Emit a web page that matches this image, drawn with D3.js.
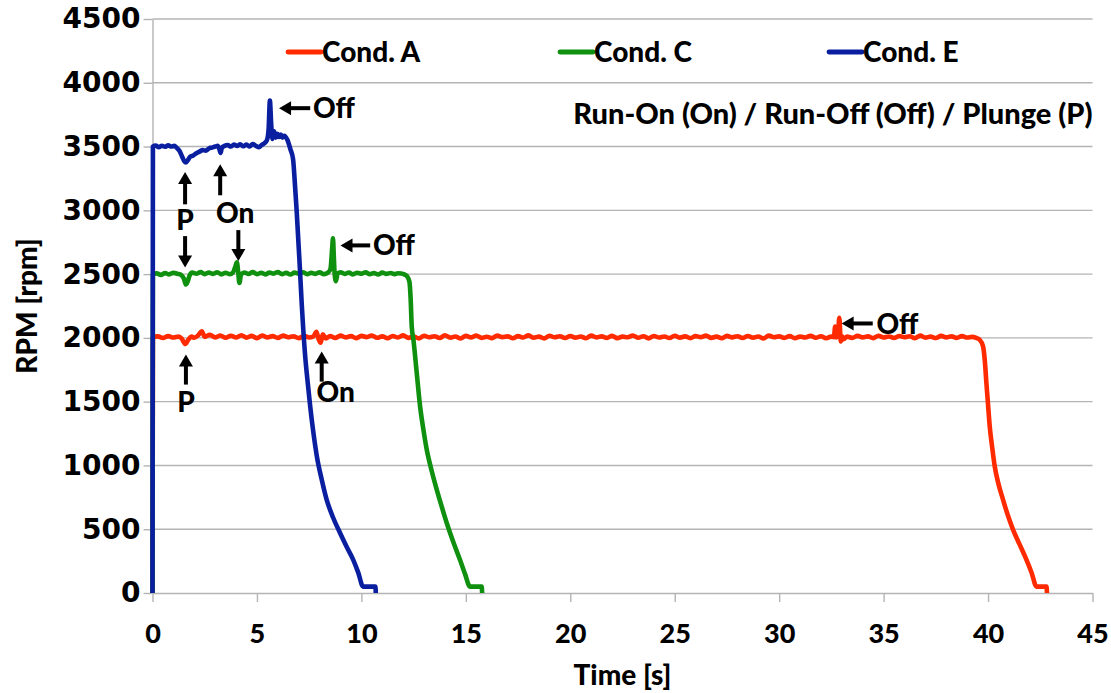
<!DOCTYPE html>
<html>
<head>
<meta charset="utf-8">
<script src="https://cdn.jsdelivr.net/npm/d3@7"></script>
<style>
  html, body { margin: 0; padding: 0; background: #fff; }
  svg { display: block; }
  .lbl { font-family: Lato, "Open Sans", sans-serif; font-weight: 900; fill: #000; }
</style>
</head>
<body>
<svg id="chart" width="1111" height="693"></svg>
<script>
// ---- measured spindle speed, [time s, rpm] ----
const condA = [
  [0,0],[0.02,2005],[0.25,2012],[0.5,1999],[0.75,2014],[1.0,2003],[1.25,2010],[1.4,1994],[1.57,1952],[1.72,1988],
  [1.87,2010],[2.0,2001],[2.2,2022],[2.36,2052],[2.5,2008],[2.75,2024],[3.0,2004],[3.25,2019],[3.5,2001],[3.75,2017],
  [4.0,2003],[4.25,2021],[4.5,2002],[4.75,2016],[5.0,1998],[5.25,2019],[5.5,2004],[5.75,2014],[6.0,2000],[6.25,2018],
  [6.5,2005],[6.75,2012],[7.0,1998],[7.25,2016],[7.5,2003],[7.7,2011],[7.85,2048],[7.95,1992],[8.05,1962],[8.15,2028],
  [8.3,1996],[8.5,2015],[8.75,2000],[9.0,2018],[9.25,2004],[9.5,2014],[9.75,1998],[10.0,2016],
  [10.25,2006],[10.5,2019],[10.75,2001],[11.0,2012],[11.25,1997],[11.5,2015],[11.75,2003],[12.0,2020],[12.25,2000],[12.5,2010],
  [12.75,1996],[13.0,2017],[13.25,2005],[13.5,2013],[13.75,1999],[14.0,2021],[14.25,2002],[14.5,2011],[14.75,1995],[15.0,2016],
  [15.25,2004],[15.5,2019],[15.75,2000],[16.0,2009],[16.25,1998],[16.5,2018],[16.75,2006],[17.0,2012],[17.25,1997],[17.5,2014],
  [17.75,2003],[18.0,2020],[18.25,2001],[18.5,2010],[18.75,1996],[19.0,2017],[19.25,2005],[19.5,2013],[19.75,1999],[20.0,2015],
  [20.25,2002],[20.5,2011],[20.75,1997],[21.0,2018],[21.25,2004],[21.5,2012],[21.75,2000],[22.0,2016],[22.25,1998],[22.5,2010],
  [22.75,2005],[23.0,2019],[23.25,2001],[23.5,2013],[23.75,1996],[24.0,2015],[24.25,2003],[24.5,2011],[24.75,1999],[25.0,2017],
  [25.25,2002],[25.5,2012],[25.75,1998],[26.0,2014],[26.25,2006],[26.5,2018],[26.75,2000],[27.0,2010],[27.25,1997],[27.5,2016],
  [27.75,2004],[28.0,2013],[28.25,1999],[28.5,2015],[28.75,2002],[29.0,2011],[29.25,1996],[29.5,2018],[29.75,2005],[30.0,2012],
  [30.25,2000],[30.5,2014],[30.75,1998],[31.0,2010],[31.25,2003],[31.5,2016],[31.75,2001],[32.0,2013],[32.25,1997],[32.5,2011],
  [32.62,2006],[32.68,2088],[32.74,2004],[32.82,2036],[32.88,2158],[32.95,1972],[33.02,2012],[33.1,1990],
  [33.25,2010],[33.5,2000],[33.75,2016],[34.0,2004],[34.25,2012],[34.5,1998],[34.75,2017],[35.0,2003],[35.25,2011],[35.5,2000],
  [35.75,2015],[36.0,2005],[36.25,2013],[36.5,1998],[36.75,2018],[37.0,2002],[37.25,2010],[37.5,1999],[37.75,2016],[38.0,2004],
  [38.25,2012],[38.5,2000],[38.75,2014],[39.0,2003],[39.25,2008],[39.45,1998],
  [39.6,1985],[39.76,1934],[39.84,1830],[39.92,1647],[40.0,1476],[40.08,1306],[40.2,1139],[40.32,992],[40.51,848],[40.72,730],
  [40.94,613],[41.2,495],[41.52,377],[41.84,260],[42.08,161],[42.32,50],[42.8,50],[42.82,0]
];

const condC = [
  [0,0],[0.02,2500],[0.2,2506],[0.4,2494],[0.6,2508],[0.8,2498],[1.0,2510],[1.2,2502],[1.38,2492],[1.5,2465],
  [1.6,2418],[1.68,2440],[1.78,2492],[1.9,2512],[2.1,2503],[2.3,2516],[2.5,2500],[2.7,2512],[2.9,2502],[3.1,2515],
  [3.3,2498],[3.5,2510],[3.7,2500],[3.85,2512],[3.98,2565],[4.04,2592],[4.1,2520],[4.16,2430],[4.24,2498],[4.4,2512],
  [4.6,2502],[4.8,2516],[5.0,2500],[5.2,2510],[5.4,2498],[5.6,2512],[5.8,2504],[6.0,2516],[6.2,2500],[6.4,2510],
  [6.6,2497],[6.8,2512],[7.0,2503],[7.2,2515],[7.4,2499],[7.6,2510],[7.8,2502],[8.0,2514],[8.2,2500],[8.4,2512],
  [8.52,2540],[8.6,2700],[8.64,2780],[8.68,2640],[8.72,2500],[8.78,2445],[8.86,2505],[9.0,2515],[9.2,2502],[9.4,2512],
  [9.6,2498],[9.8,2510],[10.0,2503],[10.2,2514],[10.4,2500],[10.6,2508],[10.8,2497],[11.0,2512],[11.2,2502],[11.4,2509],
  [11.6,2500],[11.75,2507],[11.9,2505],[12.05,2498],[12.2,2480],[12.3,2440],[12.36,2300],[12.41,2091],[12.49,1987],[12.65,1725],
  [12.81,1463],[12.97,1280],[13.13,1123],[13.37,955],[13.61,809],[13.85,675],[14.09,547],[14.4,400],[14.72,260],[14.96,150],
  [15.2,50],[15.76,50],[15.78,0]
];

const condE = [
  [0,0],[0.02,3500],[0.15,3508],[0.3,3495],[0.45,3506],[0.6,3498],[0.75,3510],[0.9,3500],[1.05,3505],[1.15,3492],
  [1.3,3465],[1.42,3420],[1.52,3385],[1.6,3375],[1.7,3395],[1.8,3420],[1.95,3430],[2.1,3448],[2.25,3460],[2.4,3472],
  [2.55,3468],[2.7,3485],[2.85,3492],[3.0,3500],[3.12,3505],[3.2,3480],[3.26,3450],[3.32,3490],[3.45,3505],[3.6,3512],
  [3.75,3500],[3.9,3515],[4.05,3505],[4.2,3518],[4.35,3502],[4.5,3515],[4.65,3500],[4.8,3520],[4.95,3505],[5.1,3495],
  [5.22,3512],[5.35,3525],[5.48,3550],[5.56,3640],[5.62,3860],[5.68,3680],[5.74,3560],[5.82,3620],[5.9,3570],[5.98,3600],
  [6.06,3575],[6.14,3595],[6.22,3570],[6.3,3585],[6.45,3555],[6.6,3480],[6.73,3400],[6.82,3200],[6.9,3000],[7.05,2560],
  [7.15,2250],[7.31,1855],[7.43,1650],[7.55,1463],[7.7,1260],[7.87,1070],[8.1,890],[8.34,730],[8.65,590],[8.98,470],
  [9.3,360],[9.61,260],[9.85,160],[10.08,50],[10.67,50],[10.69,0]
];

const seriesNames = ["Cond. A", "Cond. C", "Cond. E"];
const seriesColors = ["#ff2a00", "#0f900f", "#0a1fa0"];
const xTicks = [0, 5, 10, 15, 20, 25, 30, 35, 40, 45];
const yTicks = [0, 500, 1000, 1500, 2000, 2500, 3000, 3500, 4000, 4500];

// event markers: arrow tail -> tip in data units
const arrows = [
  [[1.56, 3047], [1.56, 3300]],
  [[1.56, 2798], [1.56, 2552]],
  [[3.24, 3118], [3.24, 3361]],
  [[4.11, 2845], [4.11, 2602]],
  [[7.55, 3801], [6.06, 3801]],
  [[10.42, 2725], [9.0, 2725]],
  [[1.6, 1634], [1.6, 1869]],
  [[8.1, 1657], [8.1, 1893]],
  [[34.48, 2113], [32.99, 2113]]
];
const eventLabels = [
  { text: "P",   t: 1.56,  rpm: 2921, anchor: "middle" },
  { text: "On",  t: 3.96,  rpm: 2977, anchor: "middle" },
  { text: "Off", t: 7.68,  rpm: 3801, anchor: "start" },
  { text: "Off", t: 10.56, rpm: 2725, anchor: "start" },
  { text: "P",   t: 1.6,   rpm: 1500, anchor: "middle" },
  { text: "On",  t: 8.77,  rpm: 1578, anchor: "middle" },
  { text: "Off", t: 34.66, rpm: 2113, anchor: "start" }
];

// ---- layout ----
const svg = d3.select("#chart");
const x = d3.scaleLinear().domain([0, 45]).range([152.5, 1092.5]);
const y = d3.scaleLinear().domain([0, 4500]).range([593, 19]);
const gridColor = "#b4b4b4";

// horizontal gridlines
svg.append("g").selectAll("line").data(yTicks.filter(d => d > 0)).join("line")
  .attr("x1", x(0)).attr("x2", x(45))
  .attr("y1", d => y(d)).attr("y2", d => y(d))
  .attr("stroke", gridColor).attr("stroke-width", 1.4);

// y axis
const yAxis = svg.append("g")
  .attr("transform", `translate(${x(0)},0)`)
  .call(d3.axisLeft(y).tickValues(yTicks).tickFormat(d3.format("d"))
    .tickSize(9).tickSizeOuter(0).tickPadding(3));
yAxis.select(".domain").attr("stroke", gridColor).attr("stroke-width", 1.4);
yAxis.selectAll(".tick line").attr("stroke", gridColor).attr("stroke-width", 1.4);
yAxis.selectAll(".tick text").attr("font-size", 28).attr("fill", "#000")
  .attr("font-family", "DejaVu Sans, Verdana, sans-serif").attr("font-weight", 700);

// x axis
const xAxis = svg.append("g")
  .attr("transform", `translate(0,${y(0)})`)
  .call(d3.axisBottom(x).tickValues(xTicks).tickSize(9).tickSizeOuter(0));
xAxis.select(".domain").attr("stroke", gridColor).attr("stroke-width", 1.4);
xAxis.selectAll(".tick line").attr("stroke", gridColor).attr("stroke-width", 1.4);
xAxis.selectAll(".tick text").attr("class", "lbl").attr("font-size", 27)
  .attr("y", 50).attr("dy", null).attr("fill", "#000");

// axis titles
svg.append("text").attr("class", "lbl").attr("font-size", 28)
  .attr("x", x(22.5)).attr("y", 685).attr("text-anchor", "middle").text("Time [s]");
svg.append("text").attr("class", "lbl").attr("font-size", 28)
  .attr("transform", "translate(37,306) rotate(-90)").attr("text-anchor", "middle").text("RPM [rpm]");

// series lines
const line = d3.line().curve(d3.curveMonotoneX).x(d => x(d[0])).y(d => y(d[1]));
[condA, condC, condE].forEach((s, i) => {
  svg.append("path").datum(s)
    .attr("d", line)
    .attr("fill", "none")
    .attr("stroke", seriesColors[i])
    .attr("stroke-width", 4.6)
    .attr("stroke-linejoin", "round")
    .attr("stroke-linecap", "butt");
});

// legend
const legendX = [288, 560, 829];
seriesNames.forEach((name, i) => {
  const g = svg.append("g").attr("transform", `translate(${legendX[i]},52)`);
  g.append("line").attr("x1", 0).attr("x2", 33).attr("y1", 0).attr("y2", 0)
    .attr("stroke", seriesColors[i]).attr("stroke-width", 4.8).attr("stroke-linecap", "round");
  g.append("text").attr("class", "lbl").attr("font-size", 28)
    .attr("x", 34).attr("y", 10).text(name);
});

// event legend note
svg.append("text").attr("class", "lbl").attr("font-size", 29)
  .attr("x", x(45)).attr("y", 124).attr("text-anchor", "end")
  .text("Run-On (On) / Run-Off (Off) / Plunge (P)");

// event arrows
const headLen = 12, headHalf = 7;
const ag = svg.append("g");
arrows.forEach(([tail, tip]) => {
  const x1 = x(tail[0]), y1 = y(tail[1]), x2 = x(tip[0]), y2 = y(tip[1]);
  const len = Math.hypot(x2 - x1, y2 - y1);
  const ux = (x2 - x1) / len, uy = (y2 - y1) / len;
  const bx = x2 - ux * headLen, by = y2 - uy * headLen;
  ag.append("line").attr("x1", x1).attr("y1", y1).attr("x2", bx + ux).attr("y2", by + uy)
    .attr("stroke", "#000").attr("stroke-width", 4);
  ag.append("path")
    .attr("d", `M${x2},${y2}L${bx - uy * headHalf},${by + ux * headHalf}L${bx + uy * headHalf},${by - ux * headHalf}Z`)
    .attr("fill", "#000");
});
svg.append("g").selectAll("text").data(eventLabels).join("text")
  .attr("class", "lbl").attr("font-size", 28)
  .attr("x", d => x(d.t)).attr("y", d => y(d.rpm))
  .attr("dy", "0.36em")
  .attr("text-anchor", d => d.anchor)
  .text(d => d.text);
</script>
</body>
</html>
